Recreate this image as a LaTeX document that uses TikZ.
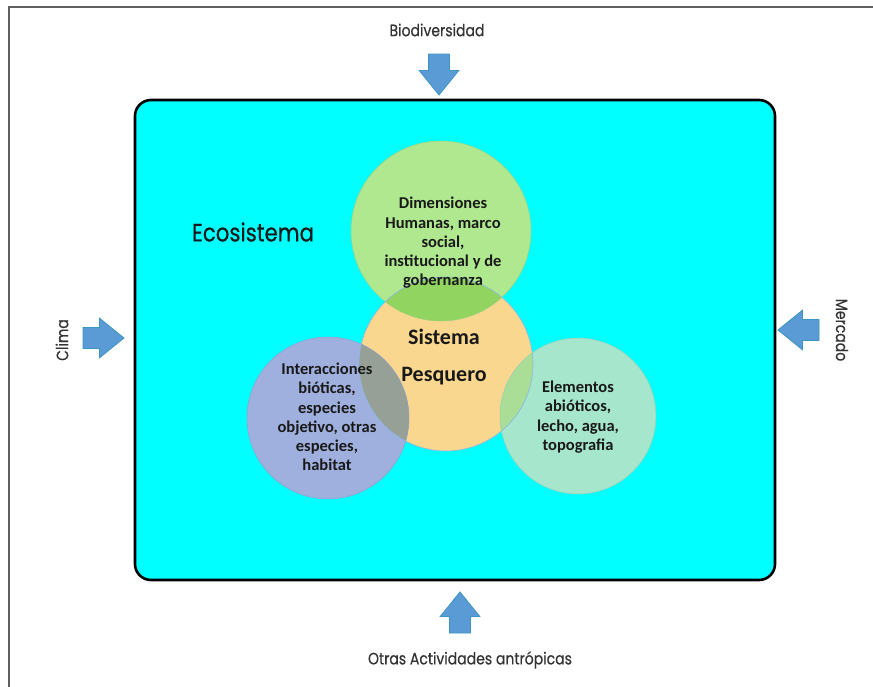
\documentclass[tikz,border=0pt]{standalone}
\usepackage{fontspec}
\setmainfont{Carlito}
\newfontfamily\geo[FakeStretch=0.85,FakeBold=0.5]{Poppins}
\usetikzlibrary{shapes.arrows}
\definecolor{boxcyan}{RGB}{0,255,255}
\definecolor{arrowblue}{RGB}{91,155,213}
\definecolor{arrowedge}{RGB}{60,150,195}
\definecolor{cgreen}{RGB}{176,232,144}
\definecolor{corange}{RGB}{250,215,142}
\definecolor{cblue}{RGB}{160,176,222}
\definecolor{cmint}{RGB}{165,230,205}
\definecolor{ovgo}{RGB}{146,212,96}
\definecolor{ovbo}{RGB}{150,160,150}
\definecolor{ovmo}{RGB}{170,222,150}
\definecolor{framegray}{RGB}{95,95,95}
\tikzset{
  barrow/.style={single arrow, fill=arrowblue, draw=arrowedge, line width=0.8,
    minimum width=39, single arrow head extend=9.5, minimum height=41,
    single arrow tip angle=78, inner xsep=0, inner ysep=10, outer sep=0, anchor=tip},
  circ/.style={circle, inner sep=0, line width=0.6},
  ctext/.style={align=center, font=\bfseries\fontsize{16.5}{19.3}\selectfont, text=black!90},
  lbl/.style={font=\geo\fontsize{16.5}{18}\selectfont, text=black!80, inner sep=0}
}
\begin{document}
\begin{tikzpicture}[x=1pt,y=-1pt]
\useasboundingbox (0,0) rectangle (873,686);
\clip (0,0) rectangle (873,686);
\draw[framegray, line width=1.6] (9,700) -- (9,7) -- (880,7);

\node[draw=black, line width=2.6, rounded corners=16, fill=boxcyan,
  minimum width=640, minimum height=480, inner sep=0] (eco) at (455,340) {};

\node[circ, fill=cgreen, minimum size=180] (hum) at (441,231) {};
\node[circ, fill=corange, minimum size=174] (sp) at (446,364) {};
\node[circ, fill=cblue, minimum size=162] (bio) at (328,418) {};
\node[circ, fill=cmint, minimum size=156] (abio) at (578,416) {};
\begin{scope}
  \clip (sp.center) circle (87);
  \fill[ovgo] (hum.center) circle (90);
  \fill[ovbo] (bio.center) circle (81);
  \fill[ovmo] (abio.center) circle (78);
\end{scope}
\draw[cgreen!90!black, line width=0.5] (hum.center) circle (90);
\draw[arrowblue!70, line width=0.7] (sp.center) circle (87);
\draw[cblue!90!black, line width=0.5] (bio.center) circle (81);
\draw[cmint!90!black, line width=0.5] (abio.center) circle (78);

\node[ctext] (humt) at (443,243) {Dimensiones\\Humanas, marco\\social,\\institucional y de\\gobernanza};
\node[ctext, font=\bfseries\fontsize{22}{37}\selectfont] (spt) at (444,357) {Sistema\\Pesquero};
\node[ctext] (biot) at (327,417) {Interacciones\\bióticas,\\especies\\objetivo, otras\\especies,\\habitat};
\node[ctext] (abiot) at (578,417) {Elementos\\abióticos,\\lecho, agua,\\topografia};

\node[font=\geo\fontsize{25}{28}\selectfont, text=black!90, inner sep=0] (ecot) at (253,232) {Ecosistema};

\node[barrow, rotate=-90] (adown) at (439,95) {};
\node[barrow] (aright) at (124,338) {};
\node[barrow, rotate=180] (aleft) at (778,330) {};
\node[barrow, rotate=90] (aup) at (460,592) {};

\node[lbl] (biod) at (437,30) {Biodiversidad};
\node[lbl, rotate=90] (clima) at (62,340) {Clima};
\node[lbl, rotate=-90] (merc) at (842,330) {Mercado};
\node[lbl] (otras) at (470,660) {Otras Actividades antrópicas};
\end{tikzpicture}
\end{document}
